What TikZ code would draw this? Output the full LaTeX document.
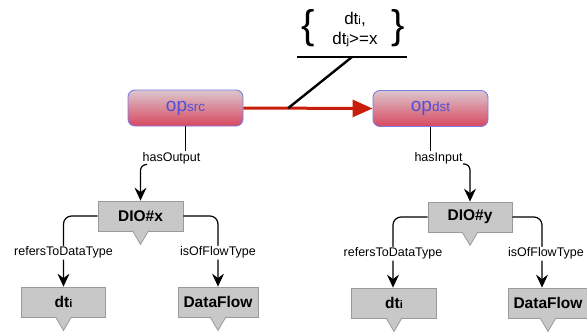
\documentclass[tikz,border=0pt]{standalone}
\usepackage{fontspec}
\setmainfont{Liberation Sans}
\usetikzlibrary{arrows.meta,calc}
\definecolor{opblue}{HTML}{5050D6}
\definecolor{opedge}{HTML}{7C7CE6}
\definecolor{optop}{HTML}{DCC6CE}
\definecolor{opbot}{HTML}{D8485F}
\definecolor{boxfill}{HTML}{C8C8C8}
\definecolor{boxedge}{HTML}{9A9A9A}
\definecolor{flowred}{HTML}{C81E0A}
\newcommand{\opname}[1]{{\fontsize{19}{19}\selectfont op}{\fontsize{13.5}{13.5}\selectfont #1}}
\newcommand{\dtname}[1]{{\bfseries dt}{\fontsize{11}{11}\selectfont #1}}
\begin{document}
\begin{tikzpicture}[x=1pt,y=-1pt,
  opbox/.style={draw=opedge, line width=0.9pt, rounded corners=7pt,
    top color=optop, bottom color=opbot, minimum width=115pt,
    minimum height=36pt, inner sep=0pt, text=opblue},
  greybox/.style={draw=boxedge, fill=boxfill, line width=0.8pt,
    minimum height=30pt, inner sep=0pt,
    font=\fontsize{15.5}{15.5}\selectfont\bfseries},
  rel/.style={font=\fontsize{12.5}{14}\selectfont, inner sep=1pt},
  link/.style={line width=1.2pt, -{Stealth[length=13pt,width=12pt,inset=4.5pt]}},
  plain/.style={line width=1.2pt},
  bar/.style={line width=2.6pt},
  brace/.style={font=\fontsize{40}{40}\selectfont, inner sep=0pt},
  dataflow/.style={line width=3pt, draw=flowred,
    -{Triangle[length=20pt,width=17pt]}, flowred}]
\useasboundingbox (0,0) rectangle (587,333);

% operators
\node[opbox] (opsrc) at (185.5,108) {\opname{src}};
\node[opbox] (opdst) at (430.5,108.5) {\opname{dst}};

% data instances and their types
\node[greybox, minimum width=85pt] (dioX) at (140.5,216) {DIO\#x};
\node[greybox, minimum width=84pt] (dioY) at (470,217) {DIO\#y};
\node[greybox, minimum width=84pt] (dtiL) at (63.5,302) {\dtname{i}};
\node[greybox, minimum width=80pt] (flowL) at (218,302) {DataFlow};
\node[greybox, minimum width=85pt] (dtiR) at (394,303) {\dtname{i}};
\node[greybox, minimum width=80pt] (flowR) at (548,303) {DataFlow};

% pointer tabs under the grey boxes
\foreach \n in {dioX,dioY,dtiL,flowL,dtiR,flowR}{
  \filldraw[fill=boxfill, draw=boxedge, line width=0.8pt]
    ([xshift=-8pt,yshift=0.6pt]\n.south) -- ([yshift=-13pt]\n.south)
    -- ([xshift=8pt,yshift=0.6pt]\n.south);
}

% condition attached to the data flow
\node[font=\fontsize{17}{20}\selectfont, align=center, inner sep=0pt] (cond) at (355,30)
  {dt{\fontsize{11.5}{11.5}\selectfont i},\\dt{\fontsize{11.5}{11.5}\selectfont j}>=x};
\node[brace] (lbrace) at (308,28) {\{};
\node[brace] (rbrace) at (398,28) {\}};
\coordinate (barL) at (297,57);
\coordinate (barR) at (407,57);
\coordinate (barM) at (352,57);
\draw[bar] (barL) -- (barR);

% data flow between the operators
\draw[dataflow] (opsrc.east) -- (opdst.west);
\coordinate (tap) at ($(opsrc.east)!0.346!(opdst.west)$);
\draw[bar, line width=2.4pt] (tap) -- (barM);

% output of the source operator
\node[rel] (hasOut) at (171.5,158.5) {hasOutput};
\draw[plain] (opsrc.south) -- (opsrc.south |- hasOut.north);
\coordinate (outStart) at (147,164.5);
\draw[link, rounded corners=6pt] (outStart) -| (dioX.north);

% input of the destination operator
\node[rel] (hasIn) at (438.5,158.5) {hasInput};
\draw[plain] (opdst.south) -- (opdst.south |- hasIn.north);
\coordinate (inStart) at (463,164);
\draw[link, rounded corners=6pt] (inStart) -| (dioY.north);

% properties of the data instances
\draw[link, rounded corners=8pt] (dioX.west) -| (dtiL.north)
  node[rel, fill=white, pos=0.76] {refersToDataType};
\draw[link, rounded corners=8pt] (dioX.east) -| (flowL.north)
  node[rel, fill=white, pos=0.76] {isOfFlowType};
\draw[link, rounded corners=8pt] (dioY.west) -| ([xshift=-1pt]dtiR.north)
  node[rel, fill=white, pos=0.76] {refersToDataType};
\draw[link, rounded corners=8pt] (dioY.east) -| ([xshift=-6pt]flowR.north)
  node[rel, fill=white, pos=0.76, xshift=4pt] {isOfFlowType};
\end{tikzpicture}
\end{document}
